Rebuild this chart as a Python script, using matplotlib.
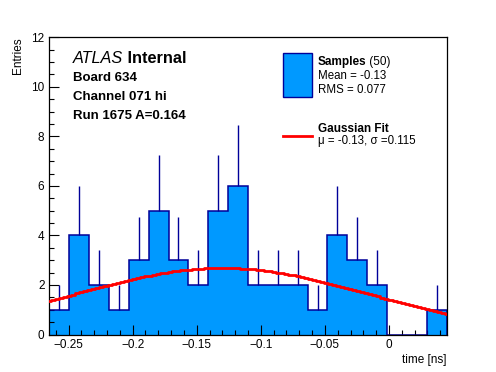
import numpy as np
import matplotlib
matplotlib.use("Agg")
import matplotlib.pyplot as plt
from matplotlib.patches import Rectangle
from matplotlib.lines import Line2D
from matplotlib.ticker import MultipleLocator

plt.rcParams['font.family'] = ['Liberation Sans', 'DejaVu Sans']

# histogram data (20 bins)
x_lo, x_hi = -0.265, 0.045
counts = [1, 4, 2, 1, 3, 5, 3, 2, 5, 6, 2, 2, 2, 1, 4, 3, 2, 0, 0, 1]
n_samples = 50
mean_txt = "-0.13"
rms_txt = "0.077"
# gaussian fit parameters
fit_mu = -0.13
fit_sigma = 0.115

edges = np.linspace(x_lo, x_hi, len(counts) + 1)
centers = 0.5 * (edges[:-1] + edges[1:])
counts = np.array(counts, dtype=float)
bw = edges[1] - edges[0]

fill_col = '#0099ff'
line_col = '#000099'

fig = plt.figure(figsize=(4.96, 3.72), dpi=100)
ax = fig.add_axes([0.0994, 0.1008, 0.8012, 0.7989])

ax.stairs(counts, edges, fill=True, color=fill_col, zorder=1)
ax.stairs(counts, edges, fill=False, color=line_col, lw=1.1, zorder=2)
# error bars, only the part above the bar shows
err = np.sqrt(counts)
nz = counts > 0
ax.vlines(centers[nz], counts[nz], (counts + err)[nz], color=line_col, lw=1, zorder=2)

# fit curve
xf = np.linspace(x_lo, x_hi, 100)
amp = n_samples * bw / (fit_sigma * np.sqrt(2 * np.pi))
yf = amp * np.exp(-0.5 * ((xf - fit_mu) / fit_sigma) ** 2)
ax.step(xf, yf, where='mid', color='red', lw=2, zorder=3)

ax.set_xlim(x_lo, x_hi)
ax.set_ylim(0, 12)
ax.xaxis.set_minor_locator(MultipleLocator(0.01))
ax.yaxis.set_major_locator(MultipleLocator(2))
ax.yaxis.set_minor_locator(MultipleLocator(0.5))
ax.tick_params(which='both', direction='in', top=False, right=False,
               labelsize=8.5, width=0.8)
ax.tick_params(which='major', length=7)
ax.tick_params(which='minor', length=3.5)
ax.set_xticks([-0.25, -0.2, -0.15, -0.1, -0.05, 0])
ax.set_xticklabels(['\u22120.25', '\u22120.2', '\u22120.15', '\u22120.1', '\u22120.05', '0'])
for s in ax.spines.values():
    s.set_linewidth(0.9)

ax.set_xlabel('time [ns]', fontsize=8.5, loc='right', labelpad=2)
ax.set_ylabel('Entries', fontsize=8.5, loc='top', labelpad=5)

# ATLAS labels
t1 = ax.text(0.060, 0.912, 'ATLAS', style='italic', fontsize=11.7, transform=ax.transAxes)
ax.annotate(' Internal', xy=(1, 0), xycoords=t1, va='bottom', weight='bold', fontsize=11.7)
for yy, s in [(0.854, 'Board 634'), (0.789, 'Channel 071 hi'), (0.725, 'Run 1675 A=0.164')]:
    ax.text(0.060, yy, s, weight='bold', fontsize=9.5, transform=ax.transAxes)

# legend
ax.add_patch(Rectangle((0.589, 0.800), 0.071, 0.146, transform=ax.transAxes,
                       facecolor=fill_col, edgecolor=line_col, lw=1, zorder=5))
t2 = ax.text(0.675, 0.908, 'Samples', weight='bold', fontsize=8.5, transform=ax.transAxes)
ax.annotate(' (%d)' % n_samples, xy=(1, 0), xycoords=t2, va='bottom', fontsize=8.5)
ax.text(0.675, 0.860, 'Mean = ' + mean_txt, fontsize=8.3, transform=ax.transAxes)
ax.text(0.675, 0.813, 'RMS = ' + rms_txt, fontsize=8.3, transform=ax.transAxes)
ax.add_line(Line2D([0.589, 0.660], [0.669, 0.669], color='red', lw=2, transform=ax.transAxes))
ax.text(0.675, 0.680, 'Gaussian Fit', weight='bold', fontsize=8.5, transform=ax.transAxes)
ax.text(0.675, 0.641, '\u03bc = %.2f, \u03c3 =%.3f' % (fit_mu, fit_sigma), fontsize=8.3,
        transform=ax.transAxes)

fig.savefig('out.png', dpi=100)
